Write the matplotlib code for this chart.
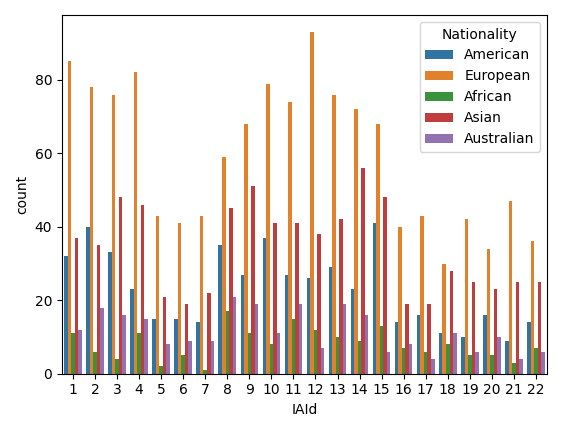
import pandas as pd
import matplotlib
matplotlib.use('Agg')
import matplotlib.pyplot as plt
import seaborn as sns

iaid = list(range(1, 23))
nationalities = ['American', 'European', 'African', 'Asian', 'Australian']
american = [32, 40, 33, 23, 15, 15, 14, 35, 27, 37, 27, 26, 29, 23, 41, 14, 16, 11, 10, 16, 9, 14]
european = [85, 78, 76, 82, 43, 41, 43, 59, 68, 79, 74, 93, 76, 72, 68, 40, 43, 30, 42, 34, 47, 36]
african = [11, 6, 4, 11, 2, 5, 1, 17, 11, 8, 15, 12, 10, 9, 13, 7, 6, 8, 5, 5, 3, 7]
asian = [37, 35, 48, 46, 21, 19, 22, 45, 51, 41, 41, 38, 42, 56, 48, 19, 19, 28, 25, 23, 25, 25]
australian = [12, 18, 16, 15, 8, 9, 9, 21, 19, 11, 19, 7, 19, 16, 6, 8, 4, 11, 6, 10, 4, 6]

rows = []
for nat, vals in zip(nationalities, [american, european, african, asian, australian]):
    for i, v in zip(iaid, vals):
        rows.append({'IAId': i, 'Nationality': nat, 'count': v})
df = pd.DataFrame(rows)

fig, ax = plt.subplots(figsize=(5.62, 4.32), dpi=100)
sns.barplot(data=df, x='IAId', y='count', hue='Nationality', hue_order=nationalities, ax=ax)
plt.tight_layout()
plt.savefig('out.png')
